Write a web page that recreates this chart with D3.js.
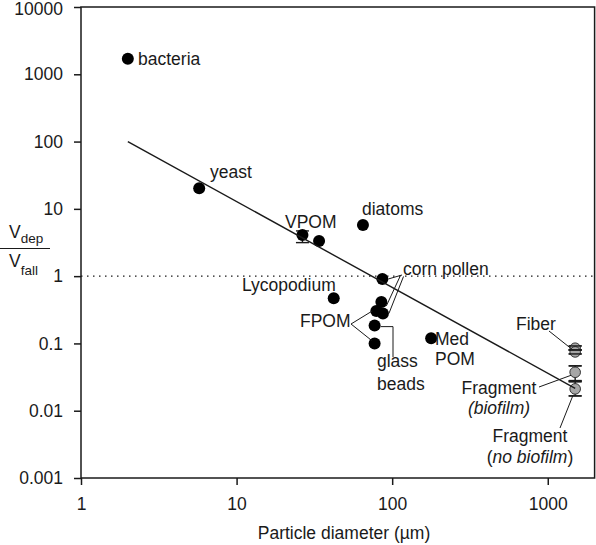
<!DOCTYPE html>
<html><head><meta charset="utf-8">
<script src="https://cdn.jsdelivr.net/npm/d3@7"></script>
<style>
html,body{margin:0;padding:0;background:#fff;}
svg{display:block;font-family:"Liberation Sans",Arial,sans-serif;}
</style></head>
<body>
<svg id="chart" width="596" height="545"></svg>
<script>
// ---- data ----
const pointNames = ["bacteria","yeast","VPOM a","VPOM b","diatoms","Lycopodium","corn pollen a","corn pollen b","corn pollen c","FPOM a","glass beads","FPOM b","Med POM"];
const pointDiam  = [2.0, 5.75, 26.5, 33.9, 64.9, 42.1, 86.5, 85.2, 87.2, 79.1, 77.1, 77.1, 178];
const pointRatio = [1700, 20.2, 4.09, 3.33, 5.77, 0.47, 0.908, 0.414, 0.279, 0.304, 0.184, 0.100, 0.119];
const pointLow   = [null, null, 3.15, null, null, null, null, null, null, null, null, null, null];
const pointHigh  = [null, null, 4.70, null, null, null, null, null, null, null, null, null, null];

const plasticNames = ["Fiber a","Fiber b","Fragment (biofilm)","Fragment (no biofilm)"];
const plasticDiam  = [1500, 1500, 1500, 1500];
const plasticRatio = [0.0849, 0.0748, 0.0373, 0.0211];
const plasticLow   = [0.080, 0.0698, 0.028, 0.0166];
const plasticHigh  = [0.0918, 0.080, 0.0464, 0.027];

const fitDiam  = [2, 1500];
const fitRatio = [100, 0.0215];

const xTicks = [1, 10, 100, 1000];
const yTicks = [0.001, 0.01, 0.1, 1, 10, 100, 1000, 10000];

// ---- layout ----
const svg = d3.select("#chart");
const mLeft = 81, mRight = 594.6, mTop = 7, mBottom = 478;
const x = d3.scaleLog().domain([1, 2000]).range([mLeft, mRight]);
const y = d3.scaleLog().domain([0.001, 10000]).range([mBottom, mTop]);
const ink = "#1a1a1a";
const fontSize = 17.5;

// axes
const xAxis = d3.axisBottom(x).tickValues(xTicks).tickSize(7).tickPadding(13).tickFormat(d3.format("d"));
const yAxis = d3.axisLeft(y).tickValues(yTicks).tickSize(7).tickPadding(11).tickFormat(d3.format("~g"));
const gx = svg.append("g").attr("transform", `translate(0,${mBottom})`).call(xAxis);
const gy = svg.append("g").attr("transform", `translate(${mLeft},0)`).call(yAxis);
[gx, gy].forEach(g => {
  g.select(".domain").remove();
  g.selectAll(".tick line").attr("stroke", ink).attr("stroke-width", 1.5);
  g.selectAll(".tick text").attr("fill", ink).style("font-size", fontSize + "px")
    .style("font-family", '"Liberation Sans",Arial,sans-serif');
});
gy.selectAll(".tick text").filter(d => d === 10000).attr("dy", "0.45em");

// frame
svg.append("rect").attr("x", mLeft).attr("y", mTop).attr("width", mRight - mLeft).attr("height", mBottom - mTop)
  .attr("fill", "none").attr("stroke", ink).attr("stroke-width", 1.5);

// dotted reference at 1
svg.append("line").attr("x1", mLeft).attr("x2", mRight).attr("y1", y(1)).attr("y2", y(1))
  .attr("stroke", ink).attr("stroke-width", 1.3).attr("stroke-dasharray", "1.5,4.5");

const pts = pointNames.map((n, i) => ({name: n, d: pointDiam[i], r: pointRatio[i], lo: pointLow[i], hi: pointHigh[i]}));
const plast = plasticNames.map((n, i) => ({name: n, d: plasticDiam[i], r: plasticRatio[i], lo: plasticLow[i], hi: plasticHigh[i]}));

function errorBars(data) {
  const g = svg.append("g").attr("stroke", ink).attr("stroke-width", 1.4);
  data.filter(d => d.lo != null).forEach(d => {
    const cx = x(d.d);
    g.append("line").attr("x1", cx).attr("x2", cx).attr("y1", y(d.lo)).attr("y2", y(d.hi));
    g.append("line").attr("x1", cx - 6.5).attr("x2", cx + 6.5).attr("y1", y(d.lo)).attr("y2", y(d.lo));
    g.append("line").attr("x1", cx - 6.5).attr("x2", cx + 6.5).attr("y1", y(d.hi)).attr("y2", y(d.hi));
  });
}
errorBars(pts);
errorBars(plast);

svg.append("g").selectAll("circle").data(pts).join("circle")
  .attr("cx", d => x(d.d)).attr("cy", d => y(d.r)).attr("r", 6).attr("fill", "#000");

svg.append("g").selectAll("circle").data(plast).join("circle")
  .attr("cx", d => x(d.d)).attr("cy", d => y(d.r)).attr("r", 5.3)
  .attr("fill", "#a6a6a6").attr("stroke", "#333").attr("stroke-width", 1);

(function(){
  const g = svg.append("g").attr("stroke", ink).attr("stroke-width", 1.4);
  plast.forEach(d => {
    const cx = x(d.d);
    [d.lo, d.hi].forEach(v => g.append("line").attr("x1", cx - 6.5).attr("x2", cx + 6.5).attr("y1", y(v)).attr("y2", y(v)));
  });
})();

// regression line
svg.append("path")
  .attr("d", d3.line().x(d => x(d[0])).y(d => y(d[1]))(fitDiam.map((d, i) => [d, fitRatio[i]])))
  .attr("fill", "none").attr("stroke", ink).attr("stroke-width", 1.4);

// ---- annotations ----
const byName = Object.fromEntries(pts.concat(plast).map(d => [d.name, d]));
const P = n => [x(byName[n].d), y(byName[n].r)];

function label(lines, xp, yp, opts = {}) {
  const t = svg.append("text").attr("x", xp).attr("y", yp).attr("fill", ink)
    .style("font-size", fontSize + "px").attr("text-anchor", opts.anchor || "start");
  lines.forEach((ln, i) => {
    const ts = t.append("tspan").attr("x", xp).attr("dy", i === 0 ? 0 : (opts.lh || 21));
    if (Array.isArray(ln)) {
      ln.forEach(part => ts.append("tspan").text(part.t).style("font-style", part.i ? "italic" : "normal"));
    } else ts.text(ln);
  });
}
label(["bacteria"], 138, 65);
label(["yeast"], 210, 178);
label(["VPOM"], 285, 228);
label(["diatoms"], 362, 215);
label(["corn pollen"], 403, 275);
label(["Lycopodium"], 242, 291);
label(["FPOM"], 300, 327);
label(["glass", "beads"], 377, 367, {lh: 23});
label(["Med", "POM"], 435, 345, {lh: 20});
label(["Fiber"], 516, 330);
label(["Fragment", [{t: "(biofilm)", i: true}]], 499, 394, {anchor: "middle", lh: 20});
label(["Fragment", [{t: "("}, {t: "no biofilm", i: true}, {t: ")"}]], 530, 442, {anchor: "middle", lh: 21});

function leader(pts2) {
  svg.append("path").attr("d", d3.line()(pts2)).attr("fill", "none").attr("stroke", ink).attr("stroke-width", 1);
}
const ca = P("corn pollen a"), cb = P("corn pollen b"), cc = P("corn pollen c");
leader([[402, 275], [ca[0] + 6, ca[1]]]);
leader([[400, 276.5], [cb[0] + 5, cb[1] + 4]]);
leader([[403.5, 276.5], [cc[0] + 6, cc[1]]]);
const fa = P("FPOM a"), fb = P("FPOM b");
leader([[351, 324], [fa[0] - 4, fa[1]]]);
leader([[351, 324], [fb[0] - 3, fb[1] - 3]]);
const gb = P("glass beads");
leader([[gb[0] + 6, gb[1] + 1], [393, gb[1] + 1], [393, 357]]);
const fiA = P("Fiber a");
leader([[549, 331], [fiA[0] - 2, fiA[1] + 2]]);
const frB = P("Fragment (biofilm)");
leader([[539, 387], [frB[0] - 4, frB[1] + 3]]);
const frN = P("Fragment (no biofilm)");
leader([[frN[0] - 2, frN[1] + 6], [560, 428]]);

// axis titles
svg.append("text").attr("x", 344).attr("y", 539).attr("text-anchor", "middle").attr("fill", ink)
  .style("font-size", fontSize + "px").text("Particle diameter (\u00B5m)");

const yl = svg.append("g").attr("fill", ink);
const t1 = yl.append("text").attr("x", 9).attr("y", 238).style("font-size", fontSize + "px");
t1.append("tspan").text("V");
t1.append("tspan").attr("dy", 5).style("font-size", "13.5px").text("dep");
yl.append("line").attr("x1", 0).attr("x2", 50).attr("y1", 248.5).attr("y2", 248.5).attr("stroke", ink).attr("stroke-width", 1.2);
const t2 = yl.append("text").attr("x", 9).attr("y", 267).style("font-size", fontSize + "px");
t2.append("tspan").text("V");
t2.append("tspan").attr("dy", 8).style("font-size", "13.5px").text("fall");
</script>
</body></html>
